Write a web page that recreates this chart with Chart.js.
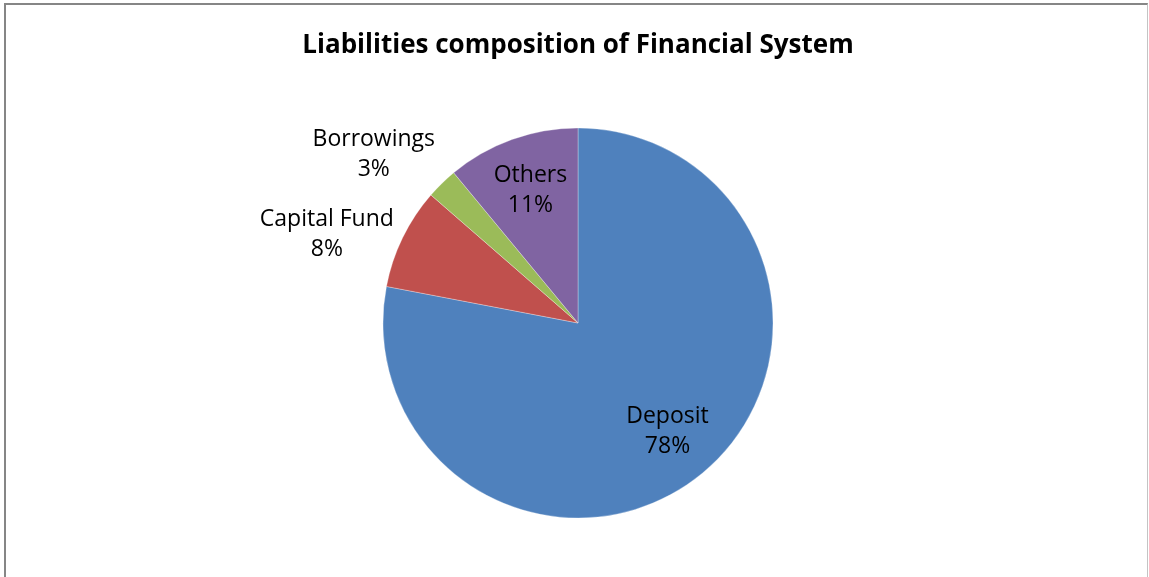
<!DOCTYPE html>
<html>
<head>
<meta charset="utf-8">
<title>Liabilities composition of Financial System</title>
<script src="https://cdn.jsdelivr.net/npm/chart.js@4"></script>
<style>
    html, body { margin: 0; padding: 0; background: #fff; }
    #wrap { position: absolute; left: 0; top: 0; width: 1149px; height: 577px; }
    #frame {
        position: absolute; left: 4px; top: 3px; right: 1px; bottom: -2px;
        border-left: 2px solid #868686; border-top: 2px solid #868686;
        border-right: 1px solid #c4c4c4; pointer-events: none;
    }
</style>
</head>
<body>
<div id="wrap">
    <canvas id="pieChart" width="1149" height="577"></canvas>
    <div id="frame"></div>
</div>
<script>
const categories = ["Deposit", "Capital Fund", "Borrowings", "Others"];
const shares = [78.0, 8.4, 2.6, 11.0];
const sliceColors = ["#4f81bd", "#c0504d", "#9bbb59", "#8064a2"];

const LABEL_FONT = '23px "Open Sans"';
const LINE_H = 30;

// data labels: big slices get the label inside, small ones outside
const sliceLabels = {
    id: 'sliceLabels',
    afterDatasetsDraw(chart) {
        const ctx = chart.ctx;
        const meta = chart.getDatasetMeta(0);
        const values = chart.data.datasets[0].data;
        const total = values.reduce((a, b) => a + b, 0);
        ctx.save();
        ctx.font = LABEL_FONT;
        ctx.fillStyle = '#000';
        ctx.textAlign = 'center';
        ctx.textBaseline = 'middle';

        const boxes = [];
        meta.data.forEach((arc, i) => {
            const p = arc.getProps(['x', 'y', 'startAngle', 'endAngle', 'outerRadius'], true);
            const mid = (p.startAngle + p.endAngle) / 2;
            const pct = Math.round(values[i] / total * 100);
            const lines = [chart.data.labels[i], pct + '%'];
            const w = Math.max(...lines.map(t => ctx.measureText(t).width));
            const h = lines.length * LINE_H;
            const c = Math.cos(mid), s = Math.sin(mid);
            let cx, cy, outside = pct < 10;
            if (!outside) {
                cx = p.x + c * p.outerRadius * 0.72;
                cy = p.y + s * p.outerRadius * 0.72;
            } else {
                const ax = p.x + c * p.outerRadius * 1.05;
                const ay = p.y + s * p.outerRadius * 1.05;
                cx = ax + Math.sign(c) * w / 2;
                cy = ay + s * h / 2;
            }
            boxes.push({ lines, w, h, cx, cy, outside });
        });

        // keep outside labels from crowding each other
        const outer = boxes.filter(b => b.outside).sort((a, b) => a.cy - b.cy);
        for (let i = 1; i < outer.length; i++) {
            const prev = outer[i - 1], cur = outer[i];
            const minY = prev.cy + prev.h / 2 + 20 + cur.h / 2;
            const xOverlap = Math.abs(prev.cx - cur.cx) < (prev.w + cur.w) / 2;
            if (xOverlap && cur.cy < minY) cur.cy = minY;
        }

        boxes.forEach(b => {
            b.lines.forEach((t, k) => {
                ctx.fillText(t, b.cx, b.cy + (k - (b.lines.length - 1) / 2) * LINE_H);
            });
        });
        ctx.restore();
    }
};

new Chart("pieChart", {
    type: "pie",
    data: {
        labels: categories,
        datasets: [{
            data: shares,
            backgroundColor: sliceColors,
            borderColor: "rgba(255,255,255,0.6)",
            borderWidth: 0.5,
            radius: 195,
            hoverOffset: 0
        }]
    },
    options: {
        responsive: false,
        animation: false,
        layout: { padding: { left: 7, right: 0, top: 0, bottom: 59 } },
        plugins: {
            legend: { display: false },
            tooltip: { enabled: false },
            title: {
                display: true,
                text: "Liabilities composition of Financial System",
                color: "#000",
                font: { family: '"Open Sans"', size: 26, weight: "bold", lineHeight: 1.2 },
                padding: { top: 30, bottom: 66.8 }
            }
        }
    },
    plugins: [sliceLabels]
});
</script>
</body>
</html>
